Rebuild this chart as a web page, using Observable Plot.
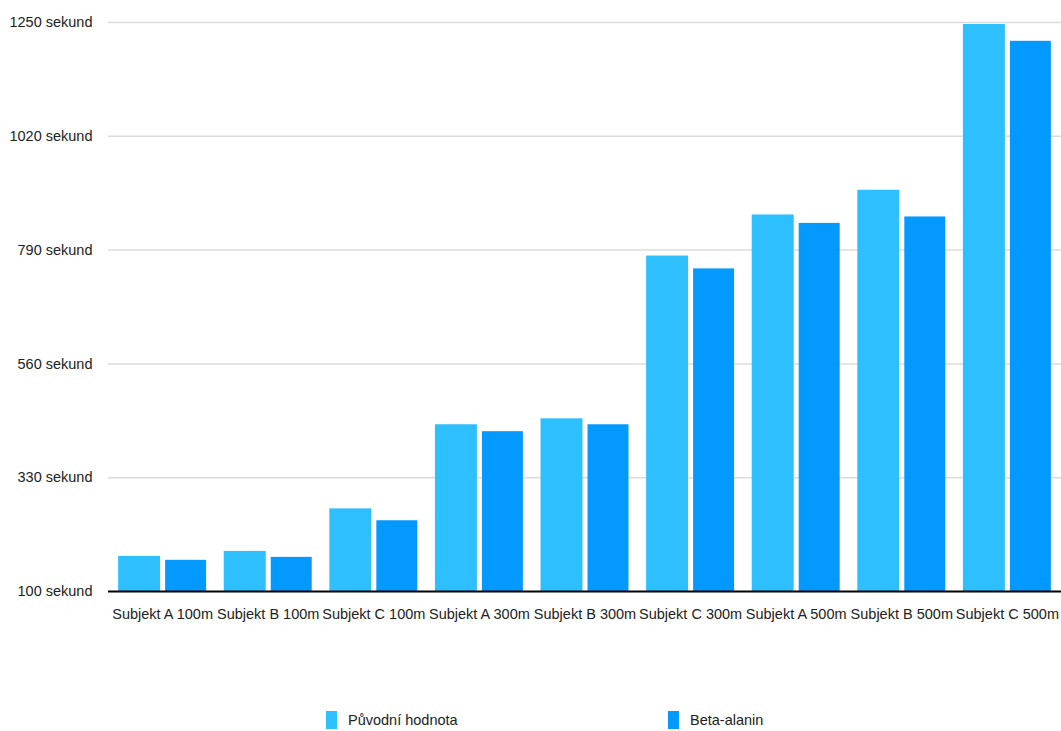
<!DOCTYPE html>
<html>
<head>
<meta charset="utf-8">
<script src="https://cdn.jsdelivr.net/npm/d3@7"></script>
<script src="https://cdn.jsdelivr.net/npm/@observablehq/plot@0.6"></script>
<style>
  html, body { margin: 0; padding: 0; background: #fff; }
  #wrap { position: relative; width: 1061px; height: 731px; font-family: "Liberation Sans", Arial, sans-serif; }
  .leg { position: absolute; top: 711px; display: flex; align-items: center; font-size: 14.5px; color: #222; }
  .sw { width: 11px; height: 18px; margin-right: 11px; }
</style>
</head>
<body>
<div id="wrap"></div>
<script>
const categories = ["Subjekt A 100m","Subjekt B 100m","Subjekt C 100m","Subjekt A 300m","Subjekt B 300m","Subjekt C 300m","Subjekt A 500m","Subjekt B 500m","Subjekt C 500m"];
const puvodni = [171, 181, 267, 437, 449, 778, 861, 911, 1246];
const beta = [163, 169, 243, 423, 437, 752, 844, 857, 1212];
const seriesNames = ["Původní hodnota", "Beta-alanin"];
const colors = ["#2EBFFF", "#0399FE"];
const yTicks = [100, 330, 560, 790, 1020, 1250];

const dataA = categories.map((c, i) => ({cat: c, v: puvodni[i]}));
const dataB = categories.map((c, i) => ({cat: c, v: beta[i]}));

const chart = Plot.plot({
  width: 1061,
  height: 640,
  marginLeft: 108,
  marginRight: 0,
  marginTop: 22,
  marginBottom: 49,
  style: {fontFamily: "Liberation Sans, Arial, sans-serif", fontSize: "14.5px", color: "#222", background: "#fff"},
  x: {domain: categories, round: false, paddingInner: 0.167, paddingOuter: 0.096, label: null, tickSize: 0, tickPadding: 17},
  y: {domain: [100, 1250], label: null, ticks: yTicks, tickFormat: d => d + " sekund", tickSize: 0, tickPadding: 16},
  marks: [
    Plot.ruleY(yTicks.slice(1), {stroke: "#dcdcdc", strokeWidth: 1.5}),
    Plot.barY(dataA, {x: "cat", y1: 100, y2: "v", fill: colors[0], insetRight: 46}),
    Plot.barY(dataB, {x: "cat", y1: 100, y2: "v", fill: colors[1], insetLeft: 47}),
    Plot.ruleY([100], {stroke: "#000", strokeWidth: 2})
  ]
});
const wrap = document.getElementById("wrap");
wrap.appendChild(chart);

const legX = [326, 668];
seriesNames.forEach((n, i) => {
  const d = document.createElement("div");
  d.className = "leg";
  d.style.left = legX[i] + "px";
  d.innerHTML = `<span class="sw" style="background:${colors[i]}"></span><span>${n}</span>`;
  wrap.appendChild(d);
});
</script>
</body>
</html>
